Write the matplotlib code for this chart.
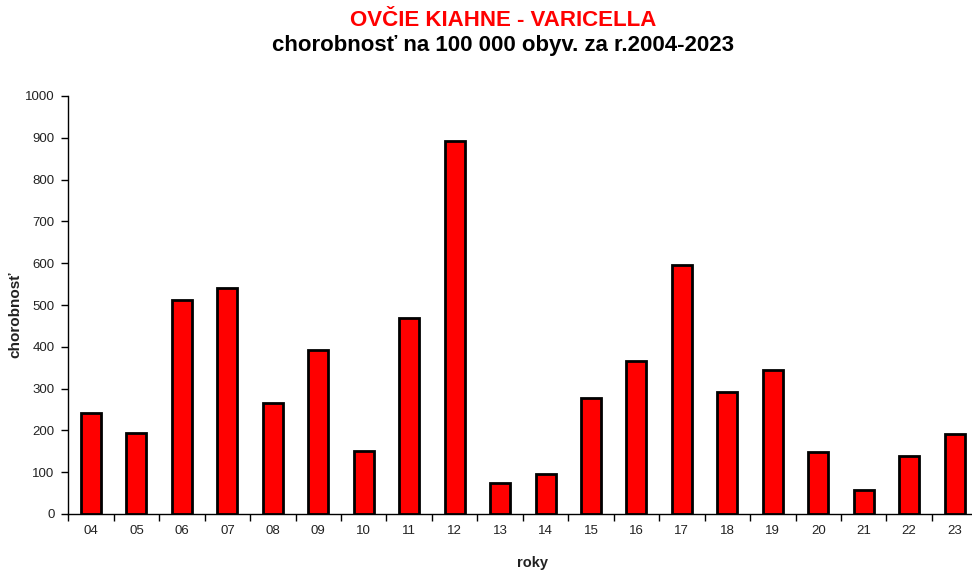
import numpy as np
import matplotlib.pyplot as plt

plt.rcParams['font.family'] = ['Liberation Sans', 'DejaVu Sans']

roky = ['04', '05', '06', '07', '08', '09', '10', '11', '12', '13',
        '14', '15', '16', '17', '18', '19', '20', '21', '22', '23']
chorobnost = [242, 194, 513, 541, 265, 392, 151, 470, 893, 75,
              96, 278, 367, 596, 293, 344, 148, 57, 139, 191]

fig = plt.figure(figsize=(9.72, 5.71), dpi=100)
ax = fig.add_axes([68.3/972, 57/571, 909/972, 418/571])

x = np.arange(len(roky))
ax.bar(x, chorobnost, width=0.44, color='#ff0000', edgecolor='black', linewidth=2, zorder=3)

ax.set_xlim(-0.5, len(roky) - 0.5)
ax.set_ylim(0, 1000)
ax.set_yticks(np.arange(0, 1001, 100))
ax.set_xticks(x)
ax.set_xticklabels(roky)
# tick marks between the years
ax.set_xticks(np.arange(-0.5, len(roky)), minor=True)
ax.tick_params(axis='x', which='major', length=0, labelsize=9.5, pad=8, labelcolor='#222222')
ax.tick_params(axis='x', which='minor', length=5, width=1, direction='out')
ax.tick_params(axis='y', length=5, width=1, labelsize=9.5, pad=5, labelcolor='#222222')

for s in ['top', 'right']:
    ax.spines[s].set_visible(False)
for s in ['left', 'bottom']:
    ax.spines[s].set_linewidth(1)

fig.text(503/972, 1 - 20/571, 'OVČIE KIAHNE - VARICELLA', color='#ff0000',
         fontsize=16, fontweight='bold', ha='center', va='center')
fig.text(503/972, 1 - 45/571, 'chorobnosť na 100 000 obyv. za r.2004-2023', color='black',
         fontsize=16, fontweight='bold', ha='center', va='center')
fig.text(532/972, 1 - 556/571, 'roky', fontsize=10.5, fontweight='bold', ha='center', va='top',
         color='#222222')
fig.text(15/972, 1 - 315/571, 'chorobnosť', fontsize=11, fontweight='bold',
         ha='center', va='center', rotation=90, color='#222222')

fig.savefig('out.png', dpi=100)
